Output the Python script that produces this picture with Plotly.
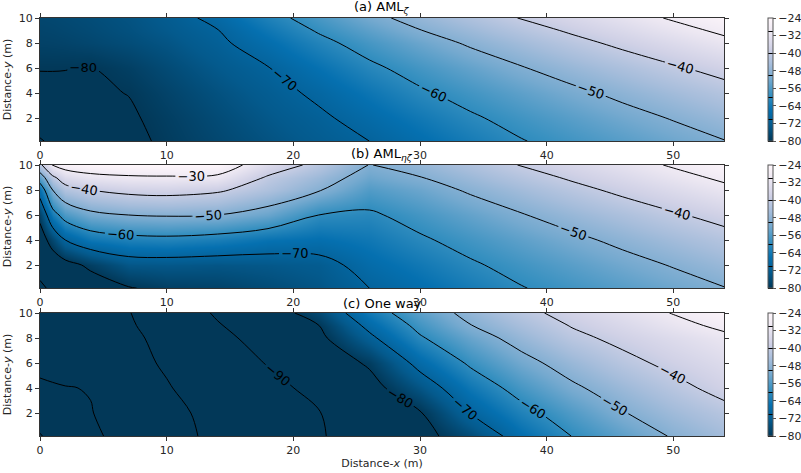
import plotly.graph_objects as go

# Sampling grid (m)
x_grid = [0, 1, 2, 4, 7, 10, 14, 18, 22, 26, 30, 34, 38, 42, 46, 50, 54]
y_grid = [0.15, 2, 4, 6, 8, 9, 10]

# (a) AML_zeta, rows follow y_grid (bottom to top)
aml_zeta = [
    [-91, -88, -86.5, -84, -81.2, -79.2, -76.9, -74.6, -72.3, -70, -66.8, -63.5, -60.3, -57.8, -55.3, -52.8, -50.2],
    [-84, -83.6, -83.2, -82.3, -80.6, -78.7, -76.1, -73.5, -71, -67.8, -64.3, -60.8, -57.9, -55.1, -52.3, -49.6, -46.8],
    [-81, -80.95, -80.9, -80.6, -79.9, -77.7, -74.9, -72.1, -68.9, -64.95, -60.9, -57.7, -54.6, -51.5, -48.5, -45.6, -42.7],
    [-79.85, -79.85, -79.9, -80.15, -78.5, -76.2, -73.2, -70.2, -65.8, -61.3, -57.5, -53.9, -50.4, -47.1, -44, -40.8, -37.7],
    [-78, -77.9, -77.7, -77, -75.8, -74.2, -71.2, -66.8, -61.8, -57.3, -53.1, -49.1, -45.6, -42, -38.5, -35.1, -31.7],
    [-77.5, -77.3, -77, -76.3, -75, -73.2, -70.2, -64.8, -59.4, -54.8, -50.2, -46.5, -42.8, -39.1, -35.7, -32.2, -28.8],
    [-77, -76.8, -76.5, -75.8, -74.5, -72.5, -68.4, -62.4, -57, -51.9, -47.5, -43.6, -39.7, -36.2, -32.8, -29.3, -26],
]

# (b) AML_eta_zeta
aml_eta_zeta = [
    [-91, -89, -87, -84, -80.4, -78.5, -77.8, -76, -74, -70, -66.8, -63.5, -60.3, -57.8, -55.3, -52.8, -50.2],
    [-88, -85, -82.5, -78.6, -73.8, -73.5, -74, -73.5, -72.4, -67.5, -64.3, -60.8, -57.9, -55.1, -52.3, -49.6, -46.8],
    [-84, -76.7, -70, -64.7, -62.5, -61.9, -63.1, -65.6, -66.5, -64.5, -60.9, -57.7, -54.6, -51.5, -48.5, -45.6, -42.7],
    [-78, -63.3, -56.7, -51.9, -50, -49.4, -50, -53.3, -60, -61, -57.5, -53.9, -50.4, -47.1, -44, -40.8, -37.7],
    [-66, -50, -43.3, -40, -37.9, -37.3, -38.9, -43.75, -49.5, -56, -53.1, -49.1, -45.6, -42, -38.5, -35.1, -31.7],
    [-55, -41.7, -35.5, -32.3, -31, -30.7, -31.4, -40.9, -46.5, -53, -50.2, -46.5, -42.8, -39.1, -35.7, -32.2, -28.8],
    [-42, -29.5, -26.5, -25, -24.5, -24.5, -25, -35, -42.3, -50.2, -47.5, -43.6, -39.7, -36.2, -32.8, -29.3, -26],
]

# (c) One way
one_way = [
    [-121, -116, -114, -111.5, -107.1, -102.9, -98.2, -94.4, -90.6, -86.6, -82.5, -75.8, -66.7, -59.9, -54.6, -49.4, -45.5],
    [-113, -112.3, -111.6, -110.3, -106.4, -102.1, -97.7, -94, -90.3, -85.4, -80.5, -69.8, -62.3, -56.1, -50.4, -46, -42.3],
    [-111, -110.7, -110.3, -109.7, -105.1, -100.5, -96.3, -92.3, -87.8, -82.7, -74.2, -64.6, -57.3, -51.2, -46.5, -42.1, -37.7],
    [-108.5, -107.6, -106.7, -104.8, -102.1, -99.2, -94.4, -89.6, -84.6, -79.1, -67.7, -58.9, -52.3, -46.9, -42.1, -38.2, -34.8],
    [-107, -106.2, -105.4, -103.8, -101.4, -98.1, -92.2, -86.8, -81.7, -71.6, -60.8, -53.4, -47.3, -41.8, -38.1, -34.8, -31.6],
    [-106.5, -105.7, -104.9, -103.3, -100.8, -96.9, -90.6, -85.3, -80.1, -68.1, -57.9, -50.2, -44.8, -39.6, -35.9, -32.2, -28.5],
    [-106, -105.3, -104.5, -102.9, -100.3, -95.6, -89.1, -83.8, -76.6, -64.2, -54.8, -47.7, -42.1, -37.5, -33.6, -29.7, -25.8],
]

panel_titles = [
    "(a) AML<sub><i>ζ</i></sub>",
    "(b) AML<sub><i>ηζ</i></sub>",
    "(c) One way",
]
x_ticks = [0, 10, 20, 30, 40, 50]
y_ticks = [2, 4, 6, 8, 10]
cbar_ticks = [-24, -32, -40, -48, -56, -64, -72, -80]

pubu_r = [
    [0.0, "rgb(2,56,88)"], [0.125, "rgb(4,90,141)"], [0.25, "rgb(5,112,176)"],
    [0.375, "rgb(54,144,192)"], [0.5, "rgb(116,169,207)"], [0.625, "rgb(166,189,219)"],
    [0.75, "rgb(208,209,230)"], [0.875, "rgb(236,231,242)"], [1.0, "rgb(255,247,251)"],
]

FONT = "DejaVu Sans"
W, H = 801, 473
ML, MR, MT, MB = 40, 77, 18, 37
plot_h = H - MT - MB
plot_w = W - ML - MR

# panel pixel extents (top, bottom) in page coordinates
panel_px = [(18, 141), (165, 288), (313, 436)]
domains = [[1 - (b - MT) / plot_h, 1 - (t - MT) / plot_h] for t, b in panel_px]

fig = go.Figure()
fields = [aml_zeta, aml_eta_zeta, one_way]
for i, z in enumerate(fields):
    xa = "x" if i == 0 else f"x{i + 1}"
    ya = "y" if i == 0 else f"y{i + 1}"
    d = domains[i]
    fig.add_trace(go.Contour(
        x=x_grid, y=y_grid, z=z,
        xaxis=xa, yaxis=ya,
        colorscale=pubu_r, zmin=-80, zmax=-24, zauto=False,
        autocontour=False,
        contours=dict(start=-120, end=-20, size=10, coloring="heatmap",
                      showlabels=True,
                      labelfont=dict(family=FONT, size=13, color="black")),
        line=dict(color="black", width=1),
        colorbar=dict(
            x=(768 - ML) / plot_w, xanchor="left", xpad=0,
            y=(d[0] + d[1]) / 2, yanchor="middle", len=d[1] - d[0], ypad=0,
            thickness=5, outlinewidth=1, outlinecolor="#555",
            tickvals=cbar_ticks, ticks="outside", ticklen=3, tickcolor="#555",
            tickfont=dict(family=FONT, size=11, color="#262626"),
        ),
        hoverinfo="skip",
    ))

axis_common = dict(showline=True, linecolor="#333", linewidth=1, mirror="allticks",
                   ticks="outside", ticklen=4, tickcolor="#333", showgrid=False,
                   zeroline=False, automargin=False,
                   tickfont=dict(family=FONT, size=11, color="#262626"))

layout = dict(width=W, height=H,
              margin=dict(l=ML, r=MR, t=MT, b=MB, autoexpand=False),
              paper_bgcolor="white", plot_bgcolor="white", showlegend=False,
              font=dict(family=FONT, color="#262626"))
ylabel = "Distance-<i>y</i> (m)"
for i in range(3):
    xk = "xaxis" if i == 0 else f"xaxis{i + 1}"
    yk = "yaxis" if i == 0 else f"yaxis{i + 1}"
    ya = "y" if i == 0 else f"y{i + 1}"
    xa = "x" if i == 0 else f"x{i + 1}"
    layout[xk] = dict(axis_common, domain=[0, 1], range=[0, 54], anchor=ya,
                      tickvals=x_ticks)
    layout[yk] = dict(axis_common, domain=domains[i], range=[0.16, 10], anchor=xa,
                      tickvals=y_ticks,
                      title=dict(text=ylabel, font=dict(family=FONT, size=11),
                                 standoff=4))
layout["xaxis3"]["title"] = dict(text="Distance-<i>x</i> (m)",
                                 font=dict(family=FONT, size=11), standoff=2)

annotations = []
for i, t in enumerate(panel_titles):
    annotations.append(dict(text=t, xref="paper", yref="paper", x=0.5,
                            y=domains[i][1], xanchor="center", yanchor="bottom",
                            yshift=0, showarrow=False,
                            font=dict(family=FONT, size=13, color="black")))
layout["annotations"] = annotations

fig.update_layout(**layout)
fig.write_html("out.html")
